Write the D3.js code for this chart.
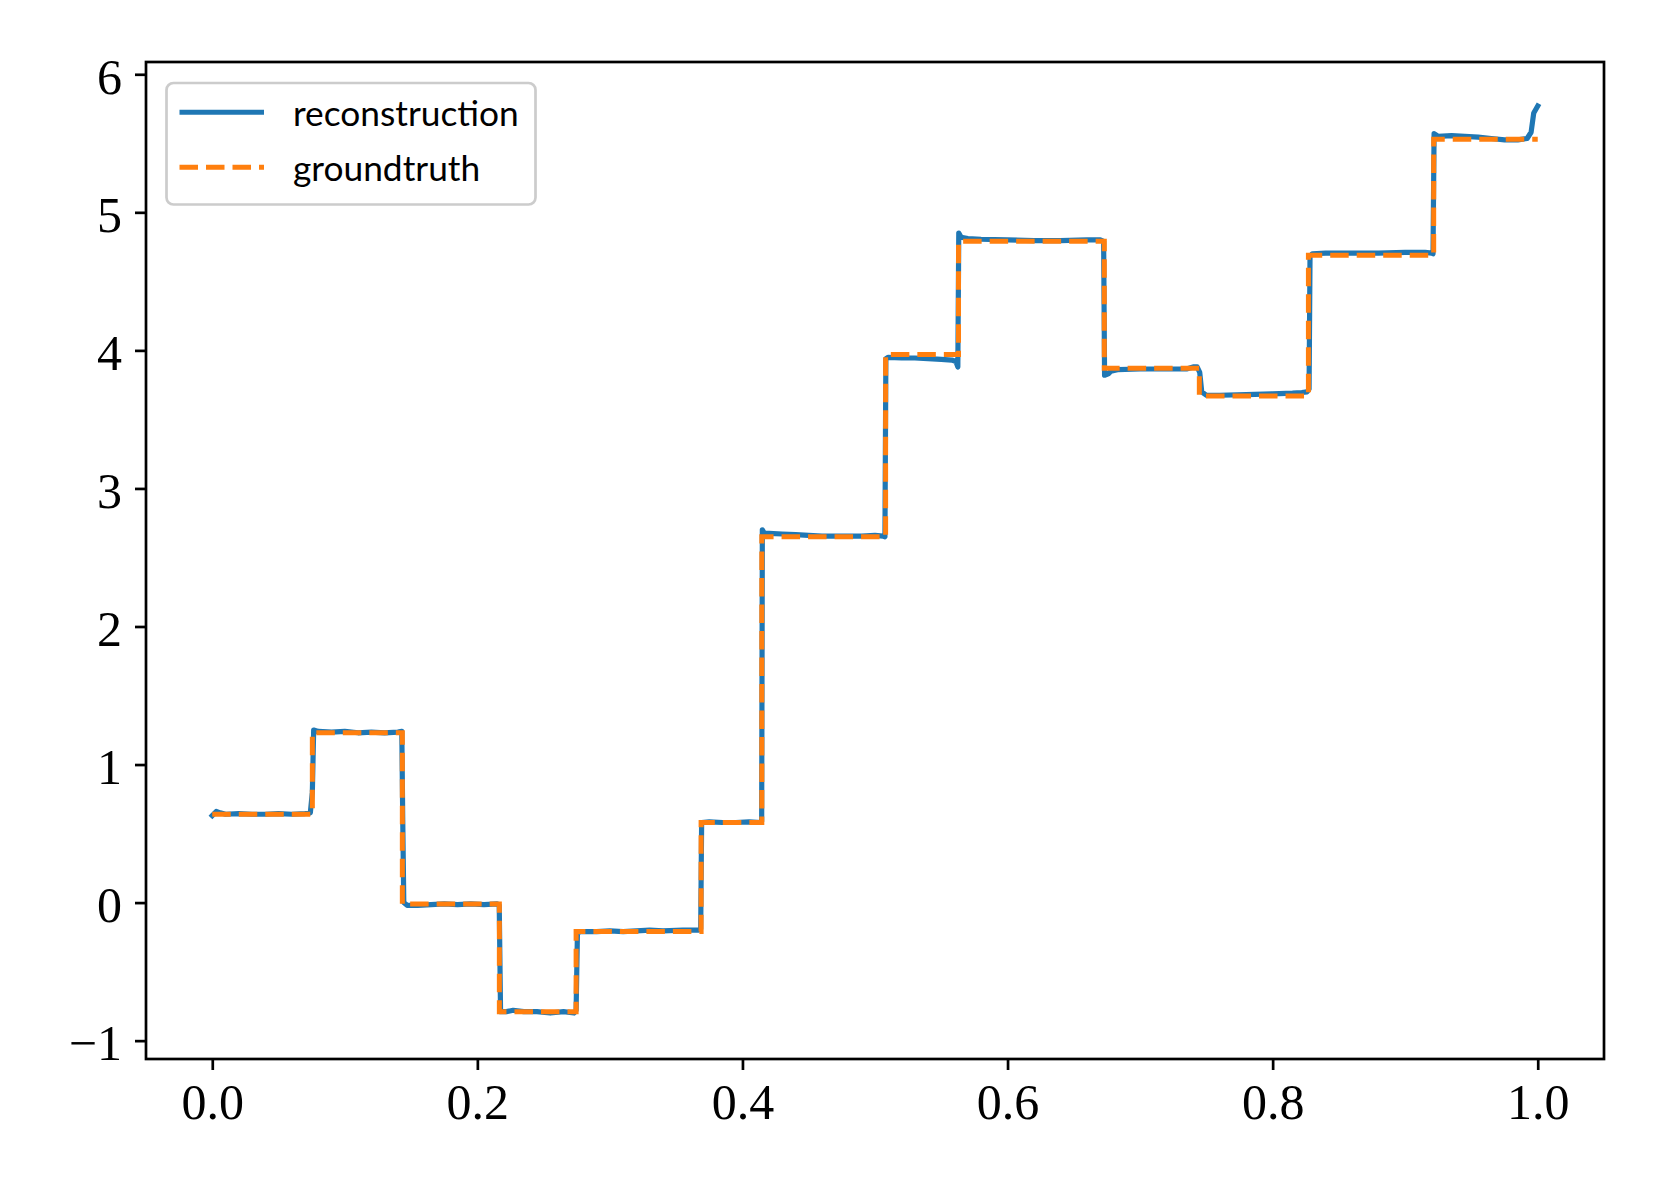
<!DOCTYPE html>
<html>
<head>
<meta charset="utf-8">
<script src="https://cdn.jsdelivr.net/npm/d3@7"></script>
<style>
  html, body { margin: 0; padding: 0; background: #fff; }
  svg { display: block; }
</style>
</head>
<body>
<svg id="chart" width="1661" height="1186"></svg>
<script>
// ---------- data ----------
const xTicks = [0.0, 0.2, 0.4, 0.6, 0.8, 1.0];
const yTicks = [-1, 0, 1, 2, 3, 4, 5, 6];

// groundtruth: piecewise constant; breakpoints and the level on each interval
const gtBreaks = [0, 0.0755, 0.1434, 0.2166, 0.2745, 0.3688, 0.4146, 0.508, 0.563, 0.673, 0.7447, 0.827, 0.9215, 1.0];
const gtLevels = [0.64, 1.23, -0.01, -0.79, -0.21, 0.58, 2.65, 3.97, 4.79, 3.87, 3.67, 4.69, 5.53];

const recX = [0.000, 0.003, 0.006, 0.010, 0.020, 0.030, 0.040, 0.050, 0.060, 0.070, 0.074, 0.0755, 0.0765,
  0.080, 0.090, 0.100, 0.110, 0.120, 0.130, 0.140, 0.143, 0.1437, 0.1445,
  0.147, 0.155, 0.165, 0.175, 0.185, 0.195, 0.205, 0.215, 0.2165, 0.2175,
  0.222, 0.227, 0.235, 0.245, 0.255, 0.265, 0.273, 0.2745, 0.2755,
  0.278, 0.290, 0.300, 0.310, 0.320, 0.330, 0.340, 0.355, 0.367, 0.3685, 0.3692,
  0.375, 0.385, 0.395, 0.405, 0.414, 0.4145, 0.4150, 0.4165,
  0.420, 0.430, 0.440, 0.450, 0.460, 0.470, 0.480, 0.490, 0.500, 0.506, 0.5075, 0.5082,
  0.510, 0.520, 0.530, 0.540, 0.550, 0.558, 0.561, 0.5625, 0.5632,
  0.565, 0.570, 0.580, 0.600, 0.620, 0.640, 0.660, 0.670, 0.6725, 0.6732,
  0.676, 0.678, 0.683, 0.700, 0.720, 0.735, 0.740, 0.743, 0.745, 0.7465,
  0.750, 0.760, 0.780, 0.800, 0.815, 0.822, 0.826, 0.8275, 0.8282,
  0.830, 0.840, 0.860, 0.880, 0.900, 0.915, 0.920, 0.921, 0.9218,
  0.925, 0.935, 0.945, 0.955, 0.965, 0.975, 0.985, 0.992, 0.995, 0.997, 1.000];
const recY = [0.63, 0.66, 0.65, 0.64, 0.645, 0.64, 0.64, 0.645, 0.64, 0.645, 0.65, 0.80, 1.25,
  1.24, 1.235, 1.24, 1.23, 1.235, 1.23, 1.235, 1.24, 0.60, 0.00,
  -0.02, -0.02, -0.015, -0.01, -0.015, -0.01, -0.015, -0.01, -0.02, -0.79,
  -0.79, -0.78, -0.79, -0.79, -0.80, -0.79, -0.80, -0.78, -0.22,
  -0.21, -0.21, -0.205, -0.21, -0.205, -0.20, -0.205, -0.20, -0.20, -0.19, 0.58,
  0.585, 0.58, 0.58, 0.585, 0.58, 0.59, 2.70, 2.675,
  2.675, 2.67, 2.665, 2.66, 2.655, 2.655, 2.655, 2.655, 2.66, 2.655, 2.65, 3.94,
  3.95, 3.945, 3.945, 3.94, 3.935, 3.93, 3.92, 3.88, 4.85,
  4.82, 4.81, 4.805, 4.80, 4.795, 4.795, 4.80, 4.80, 4.79, 3.82,
  3.83, 3.85, 3.86, 3.865, 3.865, 3.865, 3.88, 3.88, 3.84, 3.70,
  3.675, 3.675, 3.68, 3.685, 3.69, 3.695, 3.70, 3.72, 4.68,
  4.70, 4.705, 4.705, 4.705, 4.71, 4.71, 4.705, 4.70, 5.57,
  5.55, 5.555, 5.55, 5.545, 5.535, 5.525, 5.525, 5.535, 5.58, 5.72, 5.77];

const seriesNames = ["reconstruction", "groundtruth"];
const seriesColors = ["#1f77b4", "#ff7f0e"];

// ---------- layout ----------
const svg = d3.select("#chart");
const plot = { left: 146, right: 1604, top: 62, bottom: 1059 };

const x = d3.scaleLinear().domain([-0.05, 1.05]).range([plot.left, plot.right]);
const y = d3.scaleLinear().domain([-1.133, 6.089]).range([plot.bottom, plot.top]);

const serif = "'Liberation Serif', 'DejaVu Serif', serif";

// clip
svg.append("defs").append("clipPath").attr("id", "clip")
  .append("rect").attr("x", plot.left).attr("y", plot.top)
  .attr("width", plot.right - plot.left).attr("height", plot.bottom - plot.top);

// reconstruction line
const recData = recX.map((v, i) => [v, recY[i]]);
const line = d3.line().x(d => x(d[0])).y(d => y(d[1]));
svg.append("path")
  .attr("clip-path", "url(#clip)")
  .attr("d", line(recData))
  .attr("fill", "none")
  .attr("stroke", seriesColors[0])
  .attr("stroke-width", 5.2)
  .attr("stroke-linejoin", "round")
  .attr("stroke-linecap", "square");

// groundtruth step line
const gtData = gtLevels.map((v, i) => [gtBreaks[i], v]);
gtData.push([gtBreaks[gtBreaks.length - 1], gtLevels[gtLevels.length - 1]]);
const stepLine = d3.line().x(d => x(d[0])).y(d => y(d[1])).curve(d3.curveStepAfter);
svg.append("path")
  .attr("clip-path", "url(#clip)")
  .attr("d", stepLine(gtData))
  .attr("fill", "none")
  .attr("stroke", seriesColors[1])
  .attr("stroke-width", 5)
  .attr("stroke-dasharray", "18.5,8");

// axes
const xAxis = d3.axisBottom(x).tickValues(xTicks).tickFormat(d3.format(".1f")).tickSize(11).tickPadding(14);
const yAxis = d3.axisLeft(y).tickValues(yTicks).tickFormat(d => d < 0 ? "\u2212" + Math.abs(d) : String(d)).tickSize(11).tickPadding(13);

const gx = svg.append("g").attr("transform", `translate(0,${plot.bottom})`).call(xAxis);
const gy = svg.append("g").attr("transform", `translate(${plot.left},0)`).call(yAxis);
[gx, gy].forEach(g => {
  g.select(".domain").remove();
  g.selectAll(".tick line").attr("stroke", "#000").attr("stroke-width", 2.7);
  g.selectAll(".tick text").attr("fill", "#000").attr("font-family", serif).attr("font-size", 50);
});
gx.selectAll(".tick text").attr("dy", null).attr("y", 60);
gy.selectAll(".tick text").attr("dy", null).attr("y", 19).attr("x", -24);

// frame
svg.append("rect")
  .attr("x", plot.left).attr("y", plot.top)
  .attr("width", plot.right - plot.left).attr("height", plot.bottom - plot.top)
  .attr("fill", "none").attr("stroke", "#000").attr("stroke-width", 2.7);

// legend
const lg = svg.append("g");
lg.append("rect")
  .attr("x", 166.5).attr("y", 83).attr("width", 369).attr("height", 121.5)
  .attr("rx", 7).attr("ry", 7)
  .attr("fill", "#fff").attr("fill-opacity", 0.8)
  .attr("stroke", "#cccccc").attr("stroke-width", 2.7);
const legendRows = [112.3, 167.3];
seriesNames.forEach((name, i) => {
  const yy = legendRows[i];
  const l = lg.append("line")
    .attr("x1", 179.5).attr("x2", 264).attr("y1", yy).attr("y2", yy)
    .attr("stroke", seriesColors[i]).attr("stroke-width", 5);
  if (i === 1) l.attr("stroke-dasharray", "18.5,8");
  lg.append("text")
    .attr("x", 293).attr("y", yy + 14)
    .attr("font-family", "Lato, 'Open Sans', sans-serif")
    .attr("font-size", 35.3)
    .attr("fill", "#000")
    .text(name);
});
</script>
</body>
</html>
